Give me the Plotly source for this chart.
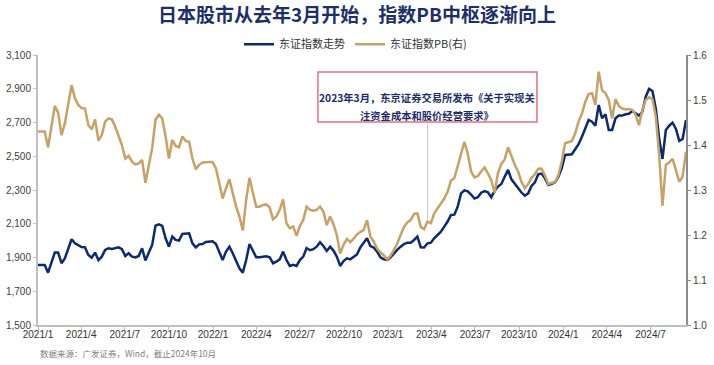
import pandas as pd
import plotly.graph_objects as go

# ---- data (weekly) ----
dates = pd.date_range("2021-01-01", periods=194, freq="7D")

topix = [
    1856, 1856, 1856, 1810, 1876, 1929, 1929, 1866, 1895, 1955,
    2008, 1984, 1972, 1962, 1960, 1915, 1899, 1929, 1885, 1905,
    1945, 1955, 1951, 1955, 1960, 1949, 1909, 1925, 1905, 1901,
    1909, 1955, 1882, 1929, 1974, 2089, 2097, 2087, 2014, 1964,
    2024, 2004, 2000, 2039, 2043, 2043, 1984, 1960, 1978, 1980,
    1992, 1996, 1996, 1980, 1935, 1885, 1935, 1964, 1925, 1876,
    1836, 1810, 1885, 1980, 1941, 1901, 1901, 1905, 1907, 1901,
    1866, 1876, 1889, 1935, 1885, 1850, 1856, 1850, 1885, 1905,
    1956, 1943, 1949, 1964, 1990, 1968, 1939, 1964, 1941, 1905,
    1850, 1879, 1895, 1889, 1905, 1918, 1960, 1984, 2014, 1968,
    1959, 1935, 1901, 1889, 1885, 1901, 1925, 1945, 1964, 1980,
    1988, 1988, 2004, 2024, 1960, 1959, 1984, 1988, 2014, 2034,
    2053, 2083, 2113, 2152, 2154, 2201, 2280, 2298, 2292, 2273,
    2249, 2257, 2284, 2294, 2286, 2257, 2296, 2320, 2336, 2379,
    2419, 2363, 2336, 2316, 2285, 2266, 2280, 2324, 2346, 2393,
    2397, 2369, 2330, 2336, 2346, 2379, 2429, 2508, 2512, 2512,
    2541, 2571, 2616, 2666, 2715, 2705, 2681, 2804, 2725, 2749,
    2656, 2656, 2725, 2741, 2741, 2749, 2752, 2768, 2752, 2741,
    2764, 2853, 2899, 2887, 2784, 2606, 2484, 2656, 2681, 2699,
    2662, 2591, 2602, 2715,
]

topix_pb = [
    1.430, 1.430, 1.430, 1.395, 1.444, 1.487, 1.472, 1.422, 1.448, 1.493,
    1.533, 1.504, 1.489, 1.482, 1.481, 1.444, 1.435, 1.457, 1.410, 1.422,
    1.452, 1.459, 1.457, 1.441, 1.422, 1.400, 1.370, 1.376, 1.363, 1.357,
    1.359, 1.367, 1.316, 1.352, 1.393, 1.456, 1.467, 1.459, 1.419, 1.370,
    1.411, 1.398, 1.395, 1.419, 1.409, 1.407, 1.370, 1.346, 1.356, 1.361,
    1.362, 1.362, 1.362, 1.348, 1.315, 1.281, 1.304, 1.324, 1.293, 1.263,
    1.241, 1.210, 1.278, 1.327, 1.294, 1.263, 1.263, 1.267, 1.268, 1.261,
    1.235, 1.241, 1.256, 1.279, 1.226, 1.215, 1.219, 1.198, 1.220, 1.233,
    1.263, 1.256, 1.254, 1.256, 1.263, 1.252, 1.222, 1.241, 1.224, 1.200,
    1.159, 1.178, 1.191, 1.184, 1.192, 1.201, 1.207, 1.211, 1.233, 1.196,
    1.185, 1.170, 1.161, 1.155, 1.146, 1.154, 1.167, 1.181, 1.200, 1.218,
    1.228, 1.233, 1.247, 1.248, 1.218, 1.213, 1.230, 1.226, 1.248, 1.259,
    1.270, 1.281, 1.296, 1.321, 1.326, 1.353, 1.380, 1.407, 1.381, 1.341,
    1.328, 1.331, 1.341, 1.350, 1.337, 1.322, 1.294, 1.338, 1.358, 1.368,
    1.395, 1.373, 1.356, 1.341, 1.318, 1.304, 1.313, 1.327, 1.335, 1.347,
    1.347, 1.332, 1.313, 1.316, 1.317, 1.333, 1.364, 1.404, 1.406, 1.409,
    1.426, 1.452, 1.470, 1.496, 1.513, 1.515, 1.489, 1.563, 1.522, 1.515,
    1.500, 1.459, 1.502, 1.487, 1.481, 1.479, 1.480, 1.478, 1.467, 1.444,
    1.478, 1.500, 1.506, 1.502, 1.463, 1.378, 1.265, 1.356, 1.361, 1.369,
    1.344, 1.318, 1.330, 1.385,
]

tick_dates = pd.date_range("2021-01-01", "2024-07-01", freq="QS")
tick_labels = [f"{d.year}/{d.month}" for d in tick_dates]

left_ticks = [1500, 1700, 1900, 2100, 2300, 2500, 2700, 2900, 3100]
right_ticks = [1.0, 1.1, 1.2, 1.3, 1.4, 1.5, 1.6]

event_date = "2023-03-24"
event_pb = topix_pb[list(dates).index(pd.Timestamp(event_date))]

title_text = "日本股市从去年3月开始，指数PB中枢逐渐向上"
note_line1 = "2023年3月，东京证券交易所发布《关于实现关"
note_line2 = "注资金成本和股价经营要求》"
source_text = "数据来源：广发证券，Wind，截止2024年10月"

BLUE = "#0b2a6f"
GOLD = "#c8a264"
NAVY = "#1d2f6b"
FONT = "Liberation Sans, Arial, sans-serif"
CJK = "Noto Sans CJK SC, sans-serif"

fig = go.Figure()
fig.add_trace(go.Scatter(x=dates, y=topix, name="东证指数走势", mode="lines",
                         line=dict(color=BLUE, width=2.5), yaxis="y"))
fig.add_trace(go.Scatter(x=dates, y=topix_pb, name="东证指数PB(右)", mode="lines",
                         line=dict(color=GOLD, width=2.5), yaxis="y2"))

fig.update_layout(
    width=714, height=365, autosize=False,
    margin=dict(l=38, r=28, t=55, b=40, autoexpand=False),
    paper_bgcolor="white", plot_bgcolor="white",
    font=dict(family=FONT, size=10, color="#404040"),
    title=dict(text="<b>" + title_text + "</b>", x=0.5, xanchor="center",
               y=0.958, yanchor="middle",
               font=dict(family=CJK, size=19, color=NAVY)),
    showlegend=True,
    legend=dict(orientation="h", x=0.49, xanchor="center", y=1.04, yanchor="middle",
                font=dict(family=CJK, size=11, color="#333333"),
                itemwidth=30, bgcolor="rgba(0,0,0,0)", tracegroupgap=0),
    xaxis=dict(type="date", range=[dates[0], dates[-1]], automargin=False,
               tickvals=list(tick_dates), ticktext=tick_labels,
               showgrid=False, zeroline=False,
               showline=True, linecolor="#bfbfbf", linewidth=1.5,
               ticks="outside", ticklen=3, tickcolor="#bfbfbf",
               ticklabelstandoff=-4,
               tickfont=dict(family=FONT, size=10, color="#333333")),
    yaxis=dict(range=[1500, 3100], tickvals=left_ticks, automargin=False,
               ticktext=[f"{v:,}" for v in left_ticks],
               showgrid=False, zeroline=False,
               showline=True, linecolor="#c0c0c0", linewidth=2,
               ticks="outside", ticklen=3, tickcolor="#c0c0c0",
               tickfont=dict(family=FONT, size=10, color="#404040")),
    yaxis2=dict(range=[1.0, 1.6], tickvals=right_ticks, automargin=False,
                ticktext=[f"{v:.1f}" for v in right_ticks],
                overlaying="y", side="right",
                showgrid=False, zeroline=False,
                showline=True, linecolor="#8c8c8c", linewidth=2,
                ticks="outside", ticklen=3, tickcolor="#8c8c8c",
                tickfont=dict(family=FONT, size=10, color="#404040")),
)

# callout box (decoration, paper coordinates)
box_x0, box_x1, box_y0, box_y1 = 0.432, 0.770, 0.752, 0.937
fig.add_shape(type="rect", xref="paper", yref="paper",
              x0=box_x0, x1=box_x1, y0=box_y0, y1=box_y1,
              line=dict(color="#e8707c", width=1.5), fillcolor="white", layer="above")
fig.add_annotation(x=(box_x0 + box_x1) / 2, y=0.878, xref="paper", yref="paper",
                   text="<b>" + note_line1 + "</b>", showarrow=False,
                   font=dict(family=CJK, size=10.3, color=NAVY))
fig.add_annotation(x=(box_x0 + box_x1) / 2, y=0.811, xref="paper", yref="paper",
                   text="<b>" + note_line2 + "</b>", showarrow=False,
                   font=dict(family=CJK, size=10.3, color=NAVY))
# connector from the box down to the PB line at the event date
fig.add_annotation(x=event_date, y=event_pb, xref="x", yref="y2",
                   ax=event_date, ay=1.0 + box_y0 * 0.6, axref="x", ayref="y2",
                   text="", showarrow=True, arrowhead=0, arrowwidth=1,
                   arrowcolor="#c8c8c8", standoff=3)

fig.add_annotation(
    x=0, y=-0.075, xref="paper", yref="paper", xanchor="left", yanchor="top",
    text=source_text, showarrow=False,
    font=dict(family=CJK, size=8.5, color="#808080"),
)

fig.write_html("out.html", config={"displayModeBar": False},
               post_script="document.body.style.margin='0px';")
